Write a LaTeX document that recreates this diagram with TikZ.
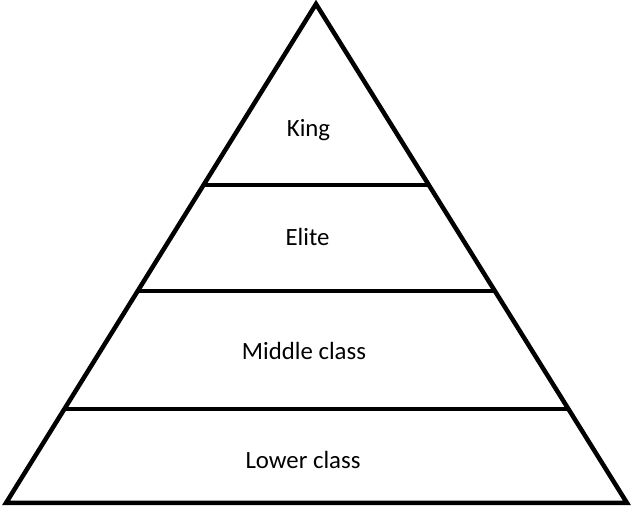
\documentclass[tikz,border=0pt]{standalone}
\usepackage{fontspec}
\setmainfont{Carlito}
\begin{document}
\begin{tikzpicture}[x=1pt,y=1pt,
  edge/.style={line width=4.5pt, line join=miter, black},
  tier/.style={anchor=base, font=\fontsize{24.8}{30}\selectfont, inner sep=0pt}]
\useasboundingbox (0,0) rectangle (632,506);
% outline of the pyramid
\coordinate (apex) at (316,502);
\coordinate (bl) at (6,3);
\coordinate (br) at (627,3);
% tier boundaries
\coordinate (a1) at (204,321);
\coordinate (a2) at (429,321);
\coordinate (b1) at (138,215);
\coordinate (b2) at (495,215);
\coordinate (c1) at (66,97);
\coordinate (c2) at (567,97);
\draw[edge] (apex) -- (br) -- (bl) -- cycle;
\draw[edge] (a1) -- (a2);
\draw[edge] (b1) -- (b2);
\draw[edge] (c1) -- (c2);
% tier labels
\node[tier] (king) at (308.5,369) {King};
\node[tier] (elite) at (307.5,260) {Elite};
\node[tier] (middle) at (304,146) {Middle class};
\node[tier] (lower) at (303,37) {Lower class};
\end{tikzpicture}
\end{document}
